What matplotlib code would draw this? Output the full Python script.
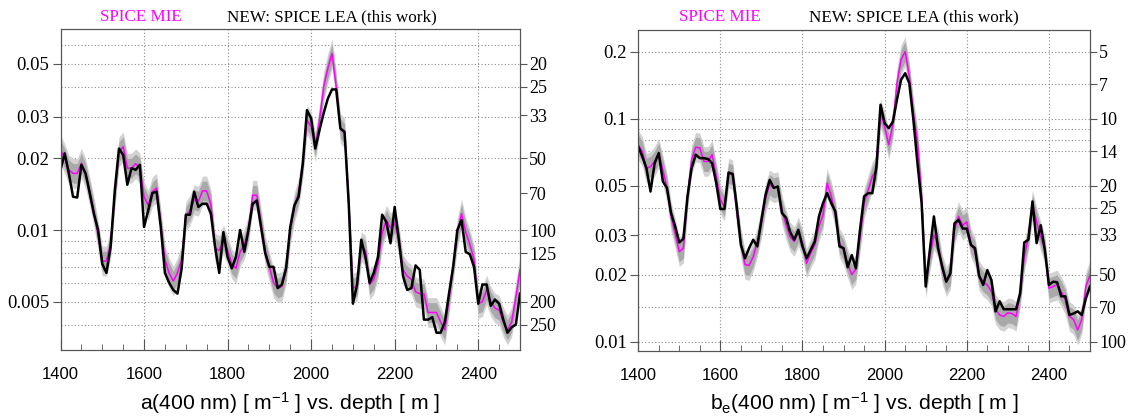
import numpy as np
import matplotlib
matplotlib.use("Agg")
import matplotlib.pyplot as plt
from matplotlib import font_manager as fm
from matplotlib.ticker import FixedLocator, NullLocator, MultipleLocator

# ---------------- data ----------------
depth = np.arange(1400, 2501, 10)

a_lea = [0.0179, 0.0210, 0.0173, 0.0138, 0.0137, 0.0188, 0.0173, 0.0143, 0.0117, 0.0100,
         0.0072, 0.0066, 0.0085, 0.0147, 0.0220, 0.0207, 0.0155, 0.0182, 0.0179, 0.0188,
         0.0103, 0.0121, 0.0143, 0.0145, 0.0103, 0.0066, 0.0060, 0.0056, 0.0054, 0.0069,
         0.0116, 0.0116, 0.0145, 0.0125, 0.0129, 0.0129, 0.0117, 0.0085, 0.0066, 0.0098,
         0.0077, 0.0069, 0.0077, 0.0100, 0.0081, 0.0100, 0.0129, 0.0133, 0.0103, 0.0080,
         0.0070, 0.0070, 0.0057, 0.0059, 0.0069, 0.0103, 0.0127, 0.0138, 0.0190, 0.0319,
         0.0295, 0.0220, 0.0263, 0.0310, 0.0357, 0.0390, 0.0390, 0.0267, 0.0259, 0.0129,
         0.0049, 0.0059, 0.0091, 0.0077, 0.0060, 0.0066, 0.0077, 0.0116, 0.0108, 0.0088,
         0.0125, 0.0091, 0.0064, 0.0056, 0.0057, 0.0071, 0.0068, 0.0042, 0.0042, 0.0043,
         0.0037, 0.0037, 0.0041, 0.0054, 0.0070, 0.0100, 0.0110, 0.0081, 0.0079, 0.0070,
         0.0049, 0.0059, 0.0059, 0.0048, 0.0051, 0.0049, 0.0042, 0.0037, 0.0039, 0.0040,
         0.0054]

a_mie = [0.0217, 0.0200, 0.0179, 0.0173, 0.0173, 0.0191, 0.0173, 0.0145, 0.0119, 0.0095,
         0.0074, 0.0074, 0.0088, 0.0141, 0.0213, 0.0224, 0.0182, 0.0182, 0.0190, 0.0182,
         0.0138, 0.0127, 0.0145, 0.0150, 0.0107, 0.0075, 0.0066, 0.0061, 0.0066, 0.0075,
         0.0114, 0.0121, 0.0134, 0.0132, 0.0146, 0.0146, 0.0128, 0.0084, 0.0082, 0.0091,
         0.0082, 0.0072, 0.0069, 0.0081, 0.0087, 0.0100, 0.0140, 0.0140, 0.0107, 0.0082,
         0.0070, 0.0060, 0.0057, 0.0058, 0.0068, 0.0100, 0.0125, 0.0143, 0.0190, 0.0290,
         0.0272, 0.0224, 0.0290, 0.0400, 0.0478, 0.0552, 0.0400, 0.0267, 0.0255, 0.0129,
         0.0057, 0.0058, 0.0085, 0.0082, 0.0059, 0.0062, 0.0072, 0.0097, 0.0110, 0.0102,
         0.0107, 0.0091, 0.0068, 0.0064, 0.0062, 0.0055, 0.0054, 0.0054, 0.0045, 0.0045,
         0.0045, 0.0041, 0.0038, 0.0051, 0.0070, 0.0097, 0.0117, 0.0098, 0.0087, 0.0075,
         0.0049, 0.0050, 0.0056, 0.0050, 0.0047, 0.0046, 0.0041, 0.0038, 0.0041, 0.0052,
         0.0068]

be_lea = [0.0751, 0.0678, 0.0600, 0.0472, 0.0632, 0.0702, 0.0524, 0.0490, 0.0378, 0.0329,
          0.0279, 0.0290, 0.0449, 0.0600, 0.0690, 0.0666, 0.0666, 0.0660, 0.0632, 0.0515,
          0.0394, 0.0394, 0.0574, 0.0566, 0.0405, 0.0272, 0.0237, 0.0263, 0.0287, 0.0268,
          0.0352, 0.0456, 0.0532, 0.0490, 0.0497, 0.0378, 0.0360, 0.0310, 0.0287, 0.0318,
          0.0268, 0.0237, 0.0258, 0.0282, 0.0365, 0.0419, 0.0464, 0.0419, 0.0384, 0.0268,
          0.0263, 0.0216, 0.0245, 0.0214, 0.0318, 0.0449, 0.0464, 0.0464, 0.0610, 0.1156,
          0.0956, 0.0908, 0.0970, 0.1217, 0.1496, 0.1600, 0.1445, 0.0990, 0.0630, 0.0419,
          0.0177, 0.0258, 0.0365, 0.0263, 0.0218, 0.0186, 0.0203, 0.0340, 0.0352, 0.0322,
          0.0322, 0.0272, 0.0263, 0.0198, 0.0180, 0.0210, 0.0189, 0.0137, 0.0152, 0.0140,
          0.0140, 0.0140, 0.0140, 0.0165, 0.0279, 0.0287, 0.0426, 0.0277, 0.0333, 0.0259,
          0.0180, 0.0186, 0.0185, 0.0160, 0.0160, 0.0132, 0.0134, 0.0137, 0.0132, 0.0157,
          0.0177]

be_mie = [0.0764, 0.0714, 0.0600, 0.0610, 0.0644, 0.0702, 0.0590, 0.0490, 0.0365, 0.0307,
          0.0254, 0.0263, 0.0449, 0.0655, 0.0746, 0.0740, 0.0644, 0.0644, 0.0690, 0.0551,
          0.0434, 0.0405, 0.0570, 0.0560, 0.0380, 0.0277, 0.0222, 0.0220, 0.0241, 0.0281,
          0.0340, 0.0440, 0.0506, 0.0490, 0.0497, 0.0390, 0.0335, 0.0295, 0.0282, 0.0312,
          0.0277, 0.0225, 0.0250, 0.0272, 0.0329, 0.0371, 0.0515, 0.0449, 0.0375, 0.0277,
          0.0258, 0.0225, 0.0200, 0.0212, 0.0292, 0.0418, 0.0480, 0.0551, 0.0590, 0.1060,
          0.0924, 0.0765, 0.0940, 0.1445, 0.1840, 0.2000, 0.1550, 0.1060, 0.0780, 0.0449,
          0.0183, 0.0241, 0.0302, 0.0277, 0.0212, 0.0186, 0.0200, 0.0317, 0.0365, 0.0333,
          0.0345, 0.0277, 0.0254, 0.0198, 0.0186, 0.0180, 0.0168, 0.0140, 0.0132, 0.0130,
          0.0135, 0.0134, 0.0130, 0.0165, 0.0241, 0.0297, 0.0411, 0.0345, 0.0297, 0.0259,
          0.0174, 0.0177, 0.0180, 0.0168, 0.0154, 0.0130, 0.0126, 0.0113, 0.0126, 0.0177,
          0.0199]

a_left_ticks = [0.05, 0.03, 0.02, 0.01, 0.005]
a_left_labels = ["0.05", "0.03", "0.02", "0.01", "0.005"]
a_right_lengths = [20, 25, 33, 50, 70, 100, 125, 200, 250]
a_grid = [0.06, 0.05, 0.04, 0.03, 0.02, 0.01, 0.009, 0.008, 0.007, 0.006, 0.005, 0.004]

be_left_ticks = [0.2, 0.1, 0.05, 0.03, 0.02, 0.01]
be_left_labels = ["0.2", "0.1", "0.05", "0.03", "0.02", "0.01"]
be_right_lengths = [5, 7, 10, 14, 20, 25, 33, 50, 70, 100]
be_grid = [0.2, 1 / 7, 0.1, 0.09, 0.08, 1 / 14, 0.05, 0.04, 1 / 33, 0.02, 1 / 70, 0.01]

x_major = [1400, 1600, 1800, 2000, 2200, 2400]
x_grid = [1600, 1800, 2000, 2200, 2400]

legend_mie = "SPICE MIE"
legend_lea = "NEW: SPICE LEA (this work)"

# ---------------- style ----------------
names = {f.name for f in fm.fontManager.ttflist}
SANS = "Liberation Sans Narrow" if "Liberation Sans Narrow" in names else "Liberation Sans"
SERIF = "Liberation Serif"
plt.rcParams["mathtext.default"] = "regular"

MAGENTA = "#ff00ff"
SPINE = "#555555"

fig = plt.figure(figsize=(11.28, 4.17), dpi=100)


def panel(rect, mie, lea, ylim, lticks, llabels, rlengths, grid_vals, band, xlabel):
    mie = np.asarray(mie)
    lea = np.asarray(lea)
    ax = fig.add_axes(rect)
    ax.set_yscale("log")
    ax.set_xlim(1400, 2500)
    ax.set_ylim(*ylim)

    for v in grid_vals:
        ax.axhline(v, color="#8a8a8a", lw=0.8, ls=(0, (1, 2)), zorder=0)
    for x in x_grid:
        ax.axvline(x, color="#8a8a8a", lw=0.8, ls=(0, (1, 2)), zorder=0)

    ax.fill_between(depth, mie / (band * 1.05), mie * band * 1.05, color="#d2d2d2", lw=0, zorder=1)
    ax.fill_between(depth, mie / band, mie * band, color="#a9a9a9", lw=0, zorder=1)
    ax.plot(depth, mie, color=MAGENTA, lw=1.1, zorder=2)
    ax.plot(depth, lea, color="black", lw=1.8, zorder=3)

    ax.yaxis.set_major_locator(FixedLocator(lticks))
    ax.set_yticklabels(llabels)
    ax.yaxis.set_minor_locator(NullLocator())
    ax.tick_params(axis="y", which="major", direction="out", length=6, width=0.8,
                   color=SPINE, labelsize=13.5, pad=2)
    for t in ax.get_yticklabels():
        t.set_fontfamily(SERIF)

    ax.xaxis.set_major_locator(FixedLocator(x_major))
    ax.xaxis.set_minor_locator(MultipleLocator(50))
    ax.tick_params(axis="x", which="major", direction="in", length=8, width=0.8,
                   color=SPINE, labelsize=12, pad=12)
    ax.tick_params(axis="x", which="minor", direction="in", length=4, width=0.6, color=SPINE)
    for t in ax.get_xticklabels():
        t.set_fontfamily(SANS)

    for s in ax.spines.values():
        s.set_color(SPINE)
        s.set_linewidth(0.8)

    tw = ax.twinx()
    tw.set_yscale("log")
    tw.set_ylim(*ylim)
    tw.yaxis.set_major_locator(FixedLocator([1.0 / L for L in rlengths]))
    tw.set_yticklabels([str(L) for L in rlengths])
    tw.yaxis.set_minor_locator(NullLocator())
    tw.tick_params(axis="y", which="major", direction="out", length=5, width=0.8,
                   color=SPINE, labelsize=13, pad=1.5)
    for t in tw.get_yticklabels():
        t.set_fontfamily(SERIF)
    for s in tw.spines.values():
        s.set_color(SPINE)
        s.set_linewidth(0.8)

    xc = rect[0] + rect[2] / 2
    fig.text(xc, 1 - 403 / 417, xlabel, ha="center", va="center",
             fontsize=15.2, fontfamily=SANS)
    return ax


panel([60.5 / 1128, 1 - 350 / 417, (520 - 60.5) / 1128, (350 - 29) / 417],
      a_mie, a_lea, (0.00313, 0.07), a_left_ticks, a_left_labels,
      a_right_lengths, a_grid, 1.10,
      "a(400 nm) [ m$^{-1}$ ] vs. depth [ m ]")
panel([638.2 / 1128, 1 - 351 / 417, (1090 - 638.2) / 1128, (351 - 30) / 417],
      be_mie, be_lea, (0.0091, 0.25), be_left_ticks, be_left_labels,
      be_right_lengths, be_grid, 1.11,
      "b$_e$(400 nm) [ m$^{-1}$ ] vs. depth [ m ]")

ty = 1 - 17 / 417
for xm, xl in [(141, 332), (720, 914)]:
    fig.text(xm / 1128, ty, legend_mie, color=MAGENTA, ha="center", va="center",
             fontsize=12.3, fontfamily=SERIF)
    fig.text(xl / 1128, ty, legend_lea, color="black", ha="center", va="center",
             fontsize=12.3, fontfamily=SERIF)

fig.savefig("out.png", dpi=100)
